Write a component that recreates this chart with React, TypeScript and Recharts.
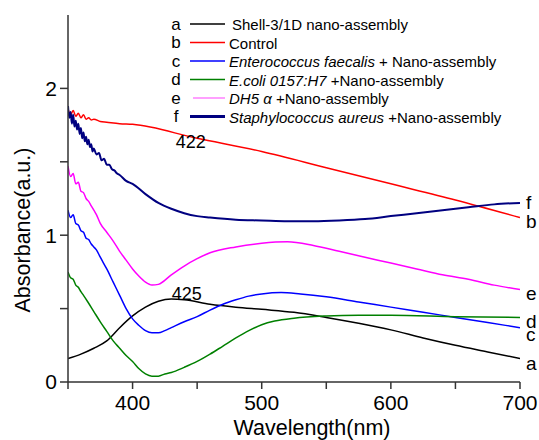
import React from "react";
import {
  LineChart,
  Line,
  XAxis,
  YAxis,
  ReferenceDot,
} from "recharts";

// wavelength (nm) -> absorbance (a.u.)
const shellAssembly: [number, number][] = [
  [350, 0.16], [360, 0.19], [370, 0.23], [380, 0.28], [390, 0.37],
  [400, 0.45], [410, 0.51], [420, 0.55], [430, 0.565], [440, 0.56],
  [460, 0.53], [480, 0.51], [500, 0.495], [525, 0.475], [550, 0.44],
  [575, 0.4], [600, 0.355], [625, 0.3], [650, 0.25], [675, 0.205], [700, 0.16],
];

const control: [number, number][] = [
  [350, 1.86], [352, 1.82], [354, 1.85], [356, 1.81], [358, 1.83],
  [360, 1.8], [362, 1.82], [364, 1.79], [366, 1.8], [368, 1.785],
  [370, 1.79], [375, 1.775], [380, 1.77], [390, 1.76], [400, 1.755],
  [450, 1.66], [500, 1.57], [550, 1.46], [600, 1.35], [650, 1.24], [700, 1.12],
];

const enterococcus: [number, number][] = [
  [350, 1.17], [352, 1.12], [354, 1.14], [356, 1.08], [358, 1.07],
  [360, 1.03], [362, 1.02], [364, 0.98], [366, 0.97], [368, 0.94],
  [370, 0.92], [372, 0.9], [375, 0.85], [380, 0.77], [385, 0.68],
  [390, 0.59], [395, 0.5], [400, 0.43], [405, 0.385], [410, 0.35],
  [415, 0.335], [420, 0.335], [425, 0.35], [430, 0.37], [440, 0.41],
  [450, 0.445], [460, 0.49], [470, 0.53], [480, 0.56], [490, 0.585],
  [500, 0.6], [515, 0.61], [530, 0.6], [550, 0.58], [575, 0.545],
  [600, 0.51], [625, 0.475], [650, 0.44], [675, 0.405], [700, 0.37],
];

const ecoli: [number, number][] = [
  [350, 0.75], [352, 0.71], [354, 0.7], [356, 0.66], [358, 0.645],
  [360, 0.615], [362, 0.59], [365, 0.55], [370, 0.48], [375, 0.41],
  [380, 0.345], [385, 0.28], [390, 0.23], [395, 0.18], [400, 0.14],
  [405, 0.09], [410, 0.055], [415, 0.04], [420, 0.04], [425, 0.055],
  [430, 0.065], [440, 0.1], [450, 0.14], [460, 0.19], [470, 0.245],
  [480, 0.3], [490, 0.35], [500, 0.39], [510, 0.415], [525, 0.435],
  [550, 0.45], [575, 0.455], [600, 0.455], [650, 0.445], [700, 0.44],
];

const dh5a: [number, number][] = [
  [350, 1.47], [352, 1.4], [354, 1.42], [356, 1.35], [358, 1.36],
  [360, 1.3], [362, 1.29], [364, 1.25], [366, 1.23], [368, 1.2],
  [370, 1.17], [372, 1.14], [375, 1.08], [380, 1.02], [385, 0.96],
  [390, 0.89], [395, 0.83], [400, 0.77], [405, 0.72], [410, 0.68],
  [415, 0.66], [420, 0.665], [430, 0.73], [440, 0.79], [450, 0.84],
  [460, 0.88], [480, 0.92], [500, 0.945], [520, 0.955], [540, 0.93],
  [560, 0.89], [580, 0.85], [600, 0.81], [620, 0.77], [640, 0.73],
  [660, 0.7], [680, 0.66], [700, 0.63],
];

const staphylococcus: [number, number][] = [
  [350, 1.88], [351, 1.8], [352, 1.84], [353, 1.76], [354, 1.82],
  [355, 1.74], [356, 1.78], [357, 1.72], [358, 1.76], [359, 1.69],
  [360, 1.73], [361, 1.66], [362, 1.7], [363, 1.64], [364, 1.67],
  [365, 1.62], [366, 1.65], [367, 1.6], [368, 1.62], [369, 1.57],
  [370, 1.59], [372, 1.55], [374, 1.56], [376, 1.51], [378, 1.52],
  [380, 1.48], [382, 1.48], [384, 1.45], [386, 1.44], [388, 1.42],
  [390, 1.41], [395, 1.37], [400, 1.35], [410, 1.28], [420, 1.22],
  [430, 1.18], [440, 1.15], [450, 1.13], [460, 1.12], [480, 1.105],
  [500, 1.1], [520, 1.095], [540, 1.095], [560, 1.1], [580, 1.11],
  [600, 1.13], [620, 1.15], [640, 1.17], [660, 1.19], [680, 1.21], [700, 1.22],
];

const xTicks = [350, 400, 450, 500, 550, 600, 650, 700];
const yTicks = [0, 0.5, 1, 1.5, 2];

const series = [
  { key: "a", data: shellAssembly, color: "#000000", width: 1.5, legendColor: "#000000", legendWidth: 1.5, endDy: 5 },
  { key: "b", data: control, color: "#ff0000", width: 1.5, legendColor: "#ff0000", legendWidth: 1.5, endDy: 4 },
  { key: "c", data: enterococcus, color: "#0000ff", width: 1.5, legendColor: "#0000ff", legendWidth: 1.5, endDy: 7 },
  { key: "d", data: ecoli, color: "#008000", width: 1.5, legendColor: "#008000", legendWidth: 1.5, endDy: 4 },
  { key: "e", data: dh5a, color: "#ff00ff", width: 1.5, legendColor: "#ff80ff", legendWidth: 1.5, endDy: 4 },
  { key: "f", data: staphylococcus, color: "#000080", width: 2, legendColor: "#000080", legendWidth: 3, endDy: 0 },
];

const legendRows = [
  { key: "a", parts: [{ t: "Shell-3/1D nano-assembly" }] },
  { key: "b", parts: [{ t: "Control" }] },
  { key: "c", parts: [{ t: "Enterococcus faecalis", i: true }, { t: " + Nano-assembly" }] },
  { key: "d", parts: [{ t: "E.coli 0157:H7", i: true }, { t: " +Nano-assembly" }] },
  { key: "e", parts: [{ t: "DH5 \u03b1", i: true }, { t: " +Nano-assembly" }] },
  { key: "f", parts: [{ t: "Staphylococcus aureus", i: true }, { t: " +Nano-assembly" }] },
];

const FONT = "'Liberation Sans', Arial, sans-serif";
const AXIS = "#333333";

const toPoints = (d: [number, number][]) => d.map(([x, y]) => ({ x, y }));

export default function App() {
  return (
    <div style={{ position: "absolute", left: 0, top: 0, width: 539, height: 440, background: "#fff", fontFamily: FONT }}>
      <LineChart width={539} height={440} margin={{ top: 15, right: 19, left: 0, bottom: 0 }}>
        <XAxis
          xAxisId="b"
          type="number"
          dataKey="x"
          domain={[350, 700]}
          ticks={xTicks}
          tickFormatter={(v) => (v % 100 === 0 ? String(v) : "")}
          height={58}
          tickSize={7}
          tickMargin={6}
          stroke={AXIS}
          strokeWidth={1.5}
          tick={{ fill: "#000", fontSize: 21, fontFamily: FONT }}
          allowDataOverflow
        />
        <XAxis
          xAxisId="t"
          orientation="top"
          type="number"
          domain={[350, 700]}
          ticks={xTicks}
          tickFormatter={() => ""}
          height={0}
          mirror
          tickSize={3}
          stroke={AXIS}
          strokeWidth={1.5}
        />
        <YAxis
          yAxisId="l"
          type="number"
          domain={[0, 2.5]}
          ticks={yTicks}
          tickFormatter={(v) => (Number.isInteger(v) ? String(v) : "")}
          width={68}
          tickSize={8}
          tickMargin={3}
          stroke={AXIS}
          strokeWidth={1.5}
          tick={{ fill: "#000", fontSize: 21, fontFamily: FONT }}
          allowDataOverflow
        />
        <YAxis
          yAxisId="r"
          orientation="right"
          type="number"
          domain={[0, 2.5]}
          ticks={yTicks}
          tickFormatter={() => ""}
          width={0}
          mirror
          tickSize={8}
          stroke={AXIS}
          strokeWidth={1.5}
        />
        {series.map((s) => (
          <Line
            key={s.key}
            xAxisId="b"
            yAxisId="l"
            data={toPoints(s.data)}
            dataKey="y"
            type="monotone"
            stroke={s.color}
            strokeWidth={s.width}
            dot={false}
            activeDot={false}
            isAnimationActive={false}
          />
        ))}
        {series.map((s) => {
          const last = s.data[s.data.length - 1];
          return (
            <ReferenceDot
              key={"end-" + s.key}
              xAxisId="b"
              yAxisId="l"
              x={last[0]}
              y={last[1]}
              r={0}
              ifOverflow="visible"
              label={{
                content: (p: any) => (
                  <text
                    x={p.viewBox.x + 6}
                    y={p.viewBox.y + s.endDy}
                    dominantBaseline="central"
                    fontSize={19}
                    fontFamily={FONT}
                    fill="#000"
                  >
                    {s.key}
                  </text>
                ),
              }}
            />
          );
        })}
        <ReferenceDot
          xAxisId="b"
          yAxisId="l"
          x={445}
          y={1.635}
          r={0}
          ifOverflow="visible"
          label={{ value: "422", position: "center", fontSize: 18, fill: "#000", fontFamily: FONT }}
        />
        <ReferenceDot
          xAxisId="b"
          yAxisId="l"
          x={442}
          y={0.605}
          r={0}
          ifOverflow="visible"
          label={{ value: "425", position: "center", fontSize: 18, fill: "#000", fontFamily: FONT }}
        />
      </LineChart>
      <svg width={539} height={440} style={{ position: "absolute", left: 0, top: 0, pointerEvents: "none" }}>
        <text
          x={23}
          y={230}
          transform="rotate(-90 23 230)"
          textAnchor="middle"
          dominantBaseline="central"
          fontSize={21.5}
          fontFamily={FONT}
        >
          Absorbance(a.u.)
        </text>
        <text x={312} y={428} textAnchor="middle" dominantBaseline="central" fontSize={21.5} fontFamily={FONT}>
          Wavelength(nm)
        </text>
        {legendRows.map((row, i) => {
          const s = series.find((d) => d.key === row.key)!;
          const y = 24 + i * 18.5;
          return (
            <g key={row.key}>
              <text x={176} y={y} textAnchor="middle" dominantBaseline="central" fontSize={17} fontFamily={FONT}>
                {row.key}
              </text>
              <line x1={i === 4 ? 193 : 190} x2={225} y1={y} y2={y} stroke={s.legendColor} strokeWidth={s.legendWidth} />
              <text x={i === 0 ? 232 : 229} y={y} dominantBaseline="central" fontSize={15} fontFamily={FONT}>
                {row.parts.map((p: any, j) => (
                  <tspan key={j} fontStyle={p.i ? "italic" : "normal"}>
                    {p.t}
                  </tspan>
                ))}
              </text>
            </g>
          );
        })}
      </svg>
    </div>
  );
}
